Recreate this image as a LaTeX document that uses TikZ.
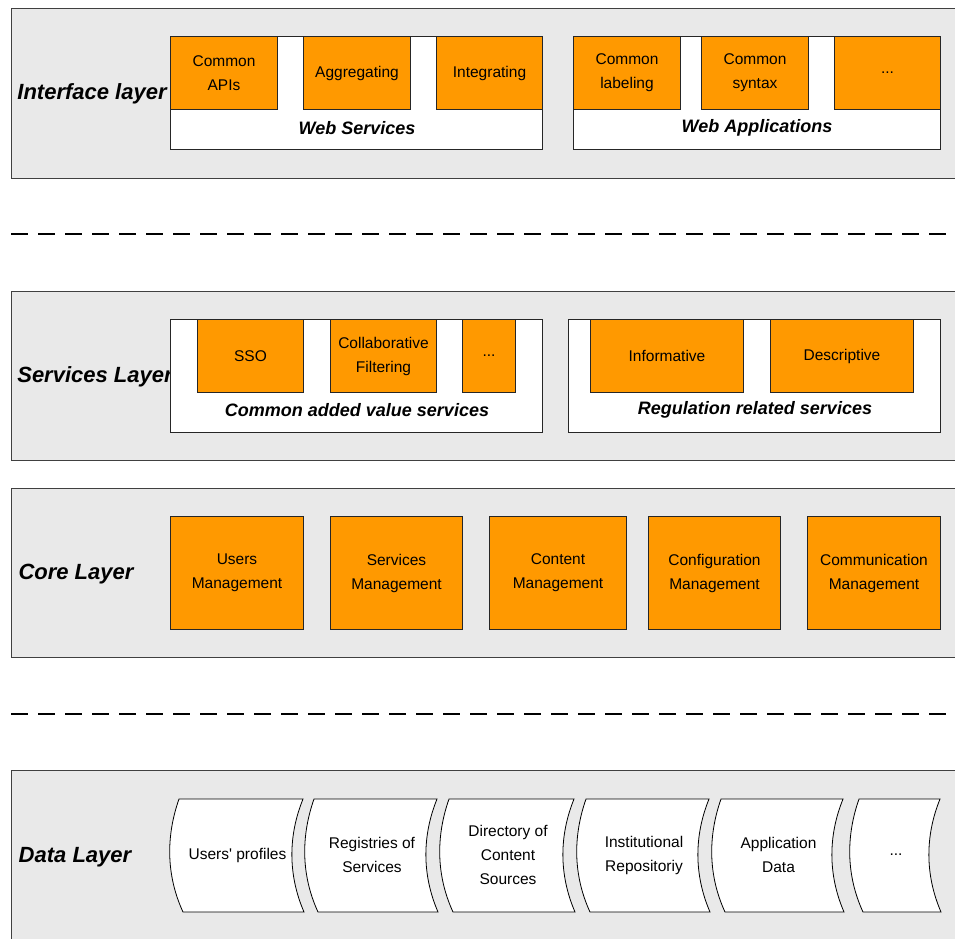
\documentclass[tikz,border=0pt]{standalone}
\usepackage{fontspec}
\setmainfont{Liberation Sans}
\definecolor{layergray}{RGB}{233,233,233}
\definecolor{boxorange}{RGB}{255,153,0}
\begin{document}
\begin{tikzpicture}
        [x=1pt, y=-1pt,
        layer/.style={draw=black!75, fill=layergray, line width=1.2pt, anchor=north west, inner sep=0pt},
        group/.style={draw=black!85, fill=white, line width=1pt, anchor=north west, inner sep=0pt},
        unit/.style={draw=black!85, fill=boxorange, line width=1pt, anchor=north west, inner sep=0pt,
                align=center, font=\fontsize{15.5}{24}\selectfont},
        store/.style={draw=black, fill=white, line width=0.8pt},
        storetext/.style={align=center, font=\fontsize{15.5}{24}\selectfont},
        layername/.style={font=\fontsize{22}{26}\selectfont\bfseries\itshape},
        groupname/.style={font=\fontsize{18}{22}\selectfont\bfseries\itshape},
        sep/.style={line width=2pt, dash pattern=on 17pt off 10pt}]

        \clip (0,0) rectangle (955,938);

        % layers
        \node[layer, minimum width=955pt, minimum height=170pt] (iface) at (11,8) {};
        \node[layer, minimum width=955pt, minimum height=169pt] (serv) at (11,291) {};
        \node[layer, minimum width=955pt, minimum height=169pt] (core) at (11,488) {};
        \node[layer, minimum width=955pt, minimum height=180pt] (data) at (11,770) {};

        \node[layername] (ifacelbl) at (92,94) {Interface layer};
        \node[layername] (servlbl) at (95,377) {Services Layer};
        \node[layername] (corelbl) at (76,574) {Core Layer};
        \node[layername] (datalbl) at (75,857) {Data Layer};

        % separators
        \draw[sep] (11,234) -- (965,234);
        \draw[sep] (11,714) -- (965,714);

        % interface layer
        \node[group, minimum width=372pt, minimum height=113pt] (ws) at (170,36) {};
        \node[unit, minimum width=107pt, minimum height=73pt] (capi) at (170,36) {Common\\APIs};
        \node[unit, minimum width=107pt, minimum height=73pt] (aggr) at (303,36) {Aggregating};
        \node[unit, minimum width=106pt, minimum height=73pt] (integ) at (436,36) {Integrating};
        \node[groupname] (wslbl) at (357,128) {Web Services};

        \node[group, minimum width=367pt, minimum height=113pt] (wa) at (573,36) {};
        \node[unit, minimum width=107pt, minimum height=73pt] (clab) at (573,36) {Common\\labeling};
        \node[unit, minimum width=107pt, minimum height=73pt] (csyn) at (701,36) {Common\\syntax};
        \node[unit, minimum width=106pt, minimum height=73pt] (wamore) at (834,36) {...};
        \node[groupname] (walbl) at (757,128) {Web Applications};

        % services layer
        \node[group, minimum width=372pt, minimum height=113pt] (cav) at (170,319) {};
        \node[unit, minimum width=106pt, minimum height=73pt] (sso) at (197,319) {SSO};
        \node[unit, minimum width=106pt, minimum height=73pt] (cfil) at (330,319) {Collaborative\\Filtering};
        \node[unit, minimum width=53pt, minimum height=73pt] (cavmore) at (462,319) {...};
        \node[groupname] (cavlbl) at (357,410) {Common added value services};

        \node[group, minimum width=372pt, minimum height=113pt] (reg) at (568,319) {};
        \node[unit, minimum width=153pt, minimum height=73pt] (info) at (590,319) {Informative};
        \node[unit, minimum width=143pt, minimum height=73pt] (descr) at (770,319) {Descriptive};
        \node[groupname] (reglbl) at (755,410) {Regulation related services};

        % core layer
        \node[unit, minimum width=133pt, minimum height=113pt] (users) at (170,516) {Users\\Management};
        \node[unit, minimum width=132pt, minimum height=113pt] (servm) at (330,516) {Services\\Management};
        \node[unit, minimum width=137pt, minimum height=113pt] (cont) at (489,516) {Content\\Management};
        \node[unit, minimum width=132pt, minimum height=113pt] (conf) at (648,516) {Configuration\\Management};
        \node[unit, minimum width=133pt, minimum height=113pt] (comm) at (807,516) {Communication\\Management};

        % data layer
        \foreach \xl/\xr/\txt/\nm in {170/303/{Users\textquotesingle{} profiles}/prof,
                305/437/{Registries of\\Services}/regs,
                440/574/{Directory of\\Content\\Sources}/dir,
                577/709/{Institutional\\Repositoriy}/repo,
                712/843/{Application\\Data}/appd,
                850/940/{...}/datamore}
        {
            \draw[store] (\xl+9,799) -- (\xr,799)
                .. controls (\xr-15,836) and (\xr-15,875) .. (\xr+1,912)
                -- (\xl+13,912)
                .. controls (\xl-4,875) and (\xl-4,836) .. cycle;
            \node[storetext] (\nm) at ({(\xl+\xr)/2+1},855) {\txt};
        }

    \end{tikzpicture}
\end{document}
